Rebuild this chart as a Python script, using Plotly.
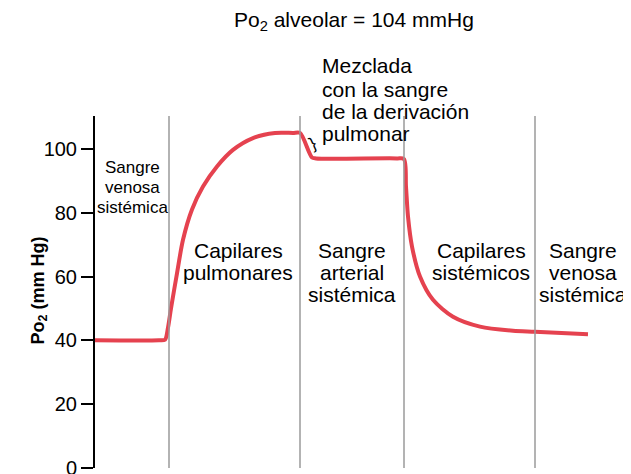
import plotly.graph_objects as go

# curve position (axis-relative units) and PO2 values
pos = [0, 6.4, 7.0, 7.3, 7.6, 8.2, 8.8, 9.7, 10.8, 12.2, 13.8, 15.8, 18.0, 19.8, 20.5,
       21.7, 22.1, 30.2, 30.9, 31.1, 31.3, 31.7, 32.5, 33.8, 35.8, 38.5, 41.8, 44.0, 49.3]
po2 = [40, 40, 40.2, 44, 50, 61, 71.5, 81, 88.2, 94.5, 99.7, 103.4, 105, 105, 105,
       97.3, 97, 97, 96.8, 88.2, 78.8, 69.4, 60, 52.7, 47.4, 44.3, 43, 42.7, 41.9]

region_edges = [7.4, 20.5, 30.9, 44.0]
y_ticks = [0, 20, 40, 60, 80, 100]

# (centre column, lines) for the region captions
region_labels = [
    (238, ["Capilares", "pulmonares"]),
    (352, ["Sangre", "arterial", "sistémica"]),
    (481, ["Capilares", "sistémicos"]),
    (583, ["Sangre", "venosa", "sistémica"]),
]
first_label = ["Sangre", "venosa", "sistémica"]
shunt_label = ["Mezclada", "con la sangre", "de la derivación", "pulmonar"]

FONT = "Liberation Sans, Arial, sans-serif"
RED = "#e5424f"

# plot area in page pixels (page body has an 8px margin)
X0, X1, Y0, Y1 = 95, 615, 116, 468


def px(x):
    return (x - X0) / (X1 - X0)


def py(y):
    return (Y1 - y) / (Y1 - Y0)


fig = go.Figure()
fig.add_trace(go.Scatter(x=pos, y=po2, mode="lines",
                         line=dict(color=RED, width=4, shape="spline", smoothing=0.8),
                         hoverinfo="skip"))

# grey boundaries between regions
for xe in region_edges:
    fig.add_shape(type="line", x0=xe, x1=xe, y0=0, y1=1, xref="x", yref="paper",
                  line=dict(color="#9a9a9a", width=1.5))


def add_lines(x, rows, lines, size, xanchor="center"):
    for r, txt in zip(rows, lines):
        fig.add_annotation(x=px(x), y=py(r), xref="paper", yref="paper", text=txt,
                           showarrow=False, xanchor=xanchor, yanchor="middle",
                           font=dict(size=size, color="black", family=FONT))


add_lines(132, [167, 187, 207], first_label, 17)
for xl, lines in region_labels:
    add_lines(xl, [250, 272, 294][:len(lines)], lines, 21)
add_lines(320, [66, 89, 111, 133], shunt_label, 21, xanchor="left")

# small brace marking the drop caused by shunted blood
fig.add_annotation(x=px(313), y=py(131), xref="paper", yref="paper", text="}",
                   showarrow=False, textangle=-25,
                   font=dict(size=17, color="black", family=FONT))

fig.add_annotation(x=px(354), y=py(21), xref="paper", yref="paper",
                   text="Po<sub>2</sub> alveolar = 104 mmHg",
                   showarrow=False, yanchor="middle",
                   font=dict(size=21, color="black", family=FONT))
fig.add_annotation(x=px(25), y=py(291), xref="paper", yref="paper",
                   text="<b>Po<sub>2</sub> (mm Hg)</b>",
                   textangle=-90, showarrow=False,
                   font=dict(size=18, color="black", family=FONT))

fig.update_layout(
    width=623, height=466,
    margin=dict(l=87, r=16, t=108, b=6, autoexpand=False),
    plot_bgcolor="white", paper_bgcolor="white",
    showlegend=False,
    xaxis=dict(range=[0, 52], visible=False),
    yaxis=dict(range=[0, 110.3], tickvals=y_ticks, showgrid=False, zeroline=False,
               showline=True, linecolor="black", linewidth=2,
               ticks="outside", ticklen=12, tickwidth=2, tickcolor="black",
               ticklabeloverflow="allow", automargin=False,
               tickfont=dict(size=20, color="black", family=FONT)),
)

fig.write_html("out.html")
